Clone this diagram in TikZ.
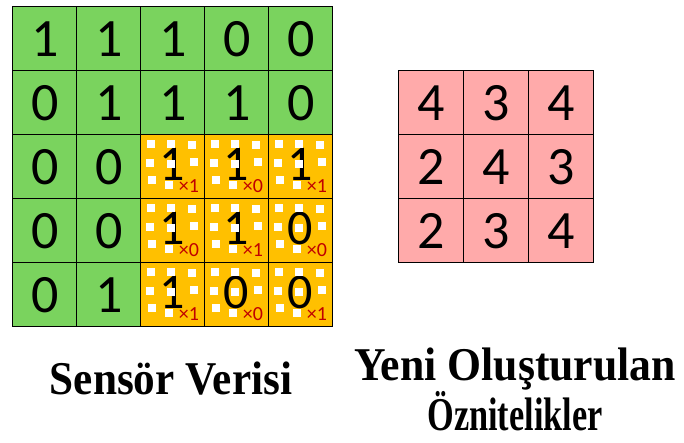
\documentclass[tikz,border=0pt]{standalone}
\usepackage{fontspec}
\setmainfont{Liberation Serif}
\newfontfamily\digitfont{Carlito}
\definecolor{gridgreen}{RGB}{122,211,94}
\definecolor{kernelgold}{RGB}{255,192,0}
\definecolor{featpink}{RGB}{255,170,170}
\definecolor{weightred}{RGB}{192,0,0}
\begin{document}
\begin{tikzpicture}[x=1pt,y=-1pt,
  cell/.style={draw, line width=1.4pt, minimum size=64pt, inner sep=0pt, anchor=north west, font=\digitfont\fontsize{54}{54}\selectfont},
  spot/.style={fill=white, minimum size=8pt, inner sep=0pt},
  weight/.style={text=weightred, inner sep=0pt, font=\digitfont\fontsize{20}{20}\selectfont},
  caption/.style={font=\bfseries\fontsize{47}{47}\selectfont, align=center, anchor=base}]
\useasboundingbox (0,0) rectangle (684,443);
% sensor grid, green part
\foreach \r/\row in {1/{1,1,1,0,0},2/{0,1,1,1,0},3/{0,0},4/{0,0},5/{0,1}}
  \foreach \v [count=\c] in \row
    \node[cell, fill=gridgreen] (s\r\c) at ({12+64*(\c-1)},{6+64*(\r-1)}) {\v};
% 3x3 window: value, white spots, weight
\foreach \r/\row in {3/{1/1,1/0,1/1},4/{1/0,1/1,0/0},5/{1/1,0/0,0/1}}
  \foreach \v/\w [count=\c from 3] in \row {
    \node[cell, fill=kernelgold] (s\r\c) at ({12+64*(\c-1)},{6+64*(\r-1)}) {};
    \node[inner sep=0pt, xshift=-1pt, yshift=2pt, font=\digitfont\fontsize{50}{50}\selectfont] (d\r\c) at (s\r\c.center) {\v};
    \foreach \dx/\dy [count=\i] in {11/10,31/10,52/11,10/29,31/30,54/28,12/46,29/51}
      \node[spot] (p\r\c\i) at ([shift={(\dx,\dy)}]s\r\c.north west) {};
    \node[weight] (w\r\c) at ([shift={(49,52)}]s\r\c.north west) {×\w};
  }
% new feature grid
\foreach \r/\row in {1/{4,3,4},2/{2,4,3},3/{2,3,4}}
  \foreach \v [count=\c] in \row
    \node[cell, fill=featpink, minimum width=65pt] (f\r\c) at ({398+65*(\c-1)},{70+64*(\r-1)}) {\v};
\node[caption] (sensorcap) at (171,394) {\scalebox{0.92}[1]{Sensör Verisi}};
% base anchor sits on the last line here
\node[caption] (featcap) at (515,430) {\scalebox{0.93}[1]{Yeni Oluşturulan}\\\scalebox{0.73}[1]{Öznitelikler}};
\end{tikzpicture}
\end{document}
